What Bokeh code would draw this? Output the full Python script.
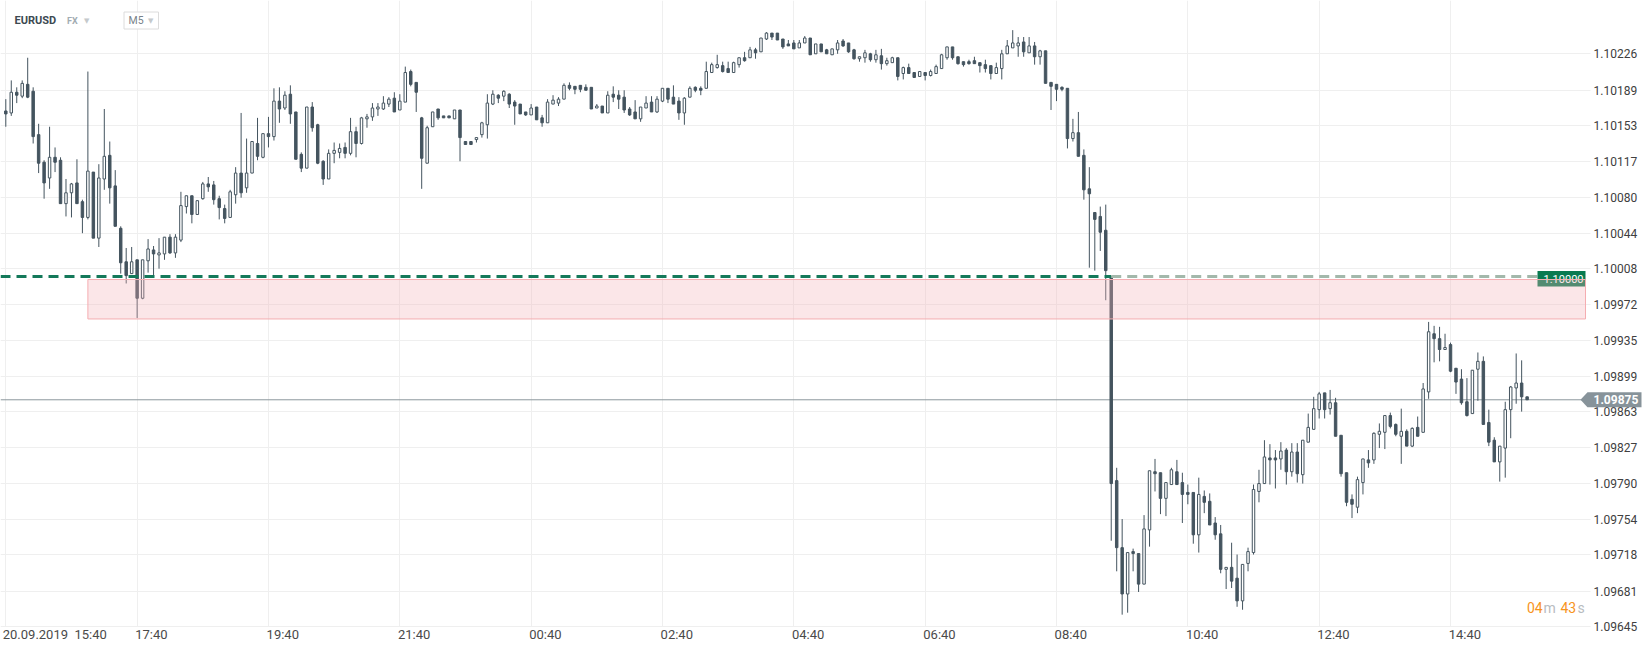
from bokeh.plotting import figure
from bokeh.models import (ColumnDataSource, Range1d, FixedTicker, Label,
                          BoxAnnotation, PolyAnnotation, Span)
from bokeh.embed import file_html
from bokeh.resources import INLINE

# ---------------- data (EURUSD, M5 candles) ----------------
symbol = "EURUSD"
market = "FX"
timeframe = "M5"

open_ = [
    1.10168, 1.10166, 1.10187, 1.10183, 1.10195, 1.10188, 1.10144, 1.10116, 1.10100, 1.10121,
    1.10118, 1.10074, 1.10085, 1.10095, 1.10076, 1.10060, 1.10106, 1.10039, 1.10099, 1.10123,
    1.10092, 1.10049, 1.10015, 1.10003, 1.10017, 1.09978, 1.10016, 1.10027, 1.10022, 1.10023,
    1.10040, 1.10024, 1.10037, 1.10071, 1.10082, 1.10063, 1.10079, 1.10094, 1.10093, 1.10079,
    1.10069, 1.10060, 1.10083, 1.10105, 1.10090, 1.10105, 1.10135, 1.10121, 1.10145, 1.10142,
    1.10178, 1.10171, 1.10185, 1.10167, 1.10124, 1.10110, 1.10172, 1.10154, 1.10117, 1.10099,
    1.10125, 1.10126, 1.10131, 1.10125, 1.10147, 1.10135, 1.10160, 1.10162, 1.10170, 1.10170,
    1.10175, 1.10181, 1.10169, 1.10177, 1.10208, 1.10197, 1.10161, 1.10115, 1.10152, 1.10170,
    1.10163, 1.10163, 1.10160, 1.10169, 1.10137, 1.10137, 1.10139, 1.10144, 1.10154, 1.10175,
    1.10184, 1.10183, 1.10185, 1.10177, 1.10175, 1.10167, 1.10164, 1.10172, 1.10161, 1.10156,
    1.10175, 1.10176, 1.10180, 1.10194, 1.10193, 1.10194, 1.10192, 1.10192, 1.10171, 1.10173,
    1.10166, 1.10185, 1.10184, 1.10182, 1.10170, 1.10167, 1.10160, 1.10171, 1.10177, 1.10167,
    1.10178, 1.10191, 1.10182, 1.10178, 1.10166, 1.10182, 1.10192, 1.10191, 1.10191, 1.10207,
    1.10212, 1.10214, 1.10211, 1.10207, 1.10215, 1.10222, 1.10222, 1.10230, 1.10228, 1.10241,
    1.10247, 1.10247, 1.10241, 1.10236, 1.10237, 1.10232, 1.10237, 1.10242, 1.10226, 1.10236,
    1.10230, 1.10225, 1.10230, 1.10239, 1.10237, 1.10230, 1.10221, 1.10222, 1.10226, 1.10220,
    1.10224, 1.10216, 1.10217, 1.10222, 1.10206, 1.10212, 1.10207, 1.10203, 1.10207, 1.10204,
    1.10206, 1.10211, 1.10222, 1.10233, 1.10223, 1.10218, 1.10218, 1.10219, 1.10217, 1.10215,
    1.10214, 1.10206, 1.10211, 1.10226, 1.10232, 1.10234, 1.10238, 1.10227, 1.10234, 1.10223,
    1.10229, 1.10197, 1.10195, 1.10192, 1.10191, 1.10140, 1.10146, 1.10123, 1.10089, 1.10065,
    1.10061, 1.10047, 1.10000, 1.09793, 1.09725, 1.09678, 1.09721, 1.09719, 1.09688, 1.09743,
    1.09802, 1.09801, 1.09775, 1.09789, 1.09802, 1.09791, 1.09781, 1.09781, 1.09738, 1.09777,
    1.09772, 1.09750, 1.09739, 1.09703, 1.09705, 1.09694, 1.09671, 1.09709, 1.09720, 1.09782,
    1.09790, 1.09816, 1.09816, 1.09815, 1.09824, 1.09802, 1.09822, 1.09799, 1.09832, 1.09845,
    1.09865, 1.09882, 1.09866, 1.09872, 1.09839, 1.09801, 1.09774, 1.09766, 1.09791, 1.09814,
    1.09814, 1.09840, 1.09842, 1.09859, 1.09850, 1.09838, 1.09843, 1.09828, 1.09847, 1.09842,
    1.09883, 1.09942, 1.09937, 1.09926, 1.09931, 1.09907, 1.09896, 1.09873, 1.09861, 1.09906,
    1.09914, 1.09852, 1.09834, 1.09812, 1.09826, 1.09865, 1.09887, 1.09892, 1.09878,
]
high_ = [
    1.10180, 1.10199, 1.10192, 1.10199, 1.10222, 1.10192, 1.10155, 1.10118, 1.10152, 1.10131,
    1.10121, 1.10099, 1.10095, 1.10119, 1.10078, 1.10208, 1.10106, 1.10114, 1.10170, 1.10137,
    1.10108, 1.10051, 1.10029, 1.10030, 1.10017, 1.10017, 1.10038, 1.10031, 1.10039, 1.10040,
    1.10043, 1.10043, 1.10086, 1.10082, 1.10082, 1.10077, 1.10096, 1.10101, 1.10097, 1.10082,
    1.10073, 1.10088, 1.10111, 1.10166, 1.10140, 1.10137, 1.10161, 1.10145, 1.10162, 1.10191,
    1.10192, 1.10188, 1.10194, 1.10167, 1.10126, 1.10172, 1.10177, 1.10155, 1.10118, 1.10129,
    1.10136, 1.10135, 1.10136, 1.10161, 1.10152, 1.10162, 1.10165, 1.10176, 1.10176, 1.10183,
    1.10182, 1.10187, 1.10185, 1.10213, 1.10210, 1.10197, 1.10162, 1.10153, 1.10167, 1.10170,
    1.10163, 1.10163, 1.10169, 1.10169, 1.10137, 1.10137, 1.10141, 1.10157, 1.10185, 1.10189,
    1.10185, 1.10189, 1.10186, 1.10179, 1.10175, 1.10167, 1.10175, 1.10172, 1.10164, 1.10180,
    1.10184, 1.10182, 1.10196, 1.10197, 1.10193, 1.10194, 1.10195, 1.10192, 1.10175, 1.10173,
    1.10188, 1.10193, 1.10189, 1.10189, 1.10172, 1.10179, 1.10172, 1.10183, 1.10183, 1.10183,
    1.10191, 1.10191, 1.10194, 1.10182, 1.10182, 1.10193, 1.10193, 1.10193, 1.10218, 1.10217,
    1.10225, 1.10218, 1.10218, 1.10218, 1.10222, 1.10228, 1.10233, 1.10232, 1.10242, 1.10248,
    1.10247, 1.10247, 1.10241, 1.10240, 1.10240, 1.10240, 1.10244, 1.10242, 1.10236, 1.10236,
    1.10231, 1.10231, 1.10240, 1.10241, 1.10237, 1.10231, 1.10223, 1.10230, 1.10227, 1.10230,
    1.10231, 1.10222, 1.10223, 1.10222, 1.10213, 1.10216, 1.10207, 1.10208, 1.10207, 1.10210,
    1.10215, 1.10226, 1.10233, 1.10233, 1.10223, 1.10218, 1.10220, 1.10223, 1.10217, 1.10220,
    1.10214, 1.10217, 1.10230, 1.10240, 1.10250, 1.10243, 1.10243, 1.10243, 1.10238, 1.10230,
    1.10229, 1.10197, 1.10195, 1.10193, 1.10191, 1.10160, 1.10167, 1.10129, 1.10111, 1.10065,
    1.10071, 1.10073, 1.10000, 1.09806, 1.09754, 1.09720, 1.09724, 1.09719, 1.09758, 1.09803,
    1.09815, 1.09801, 1.09791, 1.09806, 1.09814, 1.09801, 1.09789, 1.09781, 1.09796, 1.09783,
    1.09780, 1.09756, 1.09748, 1.09705, 1.09730, 1.09718, 1.09708, 1.09725, 1.09789, 1.09804,
    1.09834, 1.09830, 1.09824, 1.09832, 1.09826, 1.09831, 1.09831, 1.09834, 1.09861, 1.09878,
    1.09883, 1.09882, 1.09885, 1.09877, 1.09839, 1.09801, 1.09779, 1.09797, 1.09815, 1.09824,
    1.09842, 1.09851, 1.09859, 1.09862, 1.09851, 1.09866, 1.09845, 1.09847, 1.09858, 1.09892,
    1.09954, 1.09950, 1.09949, 1.09942, 1.09933, 1.09907, 1.09906, 1.09897, 1.09905, 1.09923,
    1.09919, 1.09865, 1.09837, 1.09828, 1.09873, 1.09889, 1.09922, 1.09915, 1.09878,
]
low_ = [
    1.10152, 1.10163, 1.10176, 1.10181, 1.10181, 1.10135, 1.10105, 1.10079, 1.10089, 1.10106,
    1.10074, 1.10061, 1.10060, 1.10074, 1.10044, 1.10058, 1.10039, 1.10030, 1.10088, 1.10074,
    1.10051, 1.10003, 1.09993, 1.10003, 1.09958, 1.09977, 1.10004, 1.10000, 1.10008, 1.10017,
    1.10023, 1.10019, 1.10035, 1.10064, 1.10054, 1.10063, 1.10078, 1.10086, 1.10073, 1.10058,
    1.10054, 1.10060, 1.10074, 1.10080, 1.10085, 1.10105, 1.10118, 1.10120, 1.10131, 1.10138,
    1.10156, 1.10169, 1.10155, 1.10119, 1.10106, 1.10110, 1.10147, 1.10114, 1.10093, 1.10099,
    1.10115, 1.10120, 1.10120, 1.10123, 1.10121, 1.10134, 1.10151, 1.10158, 1.10163, 1.10169,
    1.10172, 1.10167, 1.10169, 1.10177, 1.10193, 1.10167, 1.10089, 1.10115, 1.10152, 1.10159,
    1.10161, 1.10161, 1.10160, 1.10117, 1.10134, 1.10134, 1.10136, 1.10141, 1.10140, 1.10174,
    1.10176, 1.10178, 1.10171, 1.10154, 1.10165, 1.10163, 1.10164, 1.10159, 1.10152, 1.10156,
    1.10175, 1.10173, 1.10180, 1.10189, 1.10185, 1.10187, 1.10189, 1.10170, 1.10171, 1.10166,
    1.10166, 1.10177, 1.10170, 1.10166, 1.10163, 1.10160, 1.10157, 1.10171, 1.10167, 1.10166,
    1.10177, 1.10176, 1.10175, 1.10159, 1.10154, 1.10182, 1.10187, 1.10184, 1.10191, 1.10207,
    1.10211, 1.10207, 1.10207, 1.10207, 1.10212, 1.10218, 1.10222, 1.10221, 1.10228, 1.10240,
    1.10240, 1.10240, 1.10231, 1.10234, 1.10231, 1.10232, 1.10237, 1.10225, 1.10226, 1.10228,
    1.10226, 1.10225, 1.10226, 1.10233, 1.10227, 1.10220, 1.10218, 1.10217, 1.10218, 1.10217,
    1.10210, 1.10214, 1.10217, 1.10199, 1.10200, 1.10206, 1.10202, 1.10203, 1.10199, 1.10203,
    1.10206, 1.10211, 1.10220, 1.10220, 1.10215, 1.10213, 1.10215, 1.10216, 1.10207, 1.10207,
    1.10200, 1.10206, 1.10200, 1.10226, 1.10232, 1.10223, 1.10223, 1.10227, 1.10215, 1.10215,
    1.10196, 1.10169, 1.10178, 1.10188, 1.10130, 1.10137, 1.10122, 1.10078, 1.10009, 1.10006,
    1.10026, 1.09976, 1.09732, 1.09701, 1.09657, 1.09659, 1.09701, 1.09680, 1.09688, 1.09726,
    1.09782, 1.09759, 1.09757, 1.09789, 1.09789, 1.09750, 1.09769, 1.09729, 1.09720, 1.09760,
    1.09748, 1.09733, 1.09699, 1.09683, 1.09684, 1.09665, 1.09662, 1.09701, 1.09718, 1.09771,
    1.09790, 1.09789, 1.09785, 1.09804, 1.09789, 1.09797, 1.09791, 1.09790, 1.09832, 1.09845,
    1.09856, 1.09856, 1.09860, 1.09838, 1.09797, 1.09767, 1.09755, 1.09760, 1.09779, 1.09806,
    1.09810, 1.09826, 1.09825, 1.09846, 1.09838, 1.09810, 1.09828, 1.09827, 1.09838, 1.09842,
    1.09876, 1.09913, 1.09914, 1.09926, 1.09903, 1.09881, 1.09870, 1.09858, 1.09861, 1.09874,
    1.09850, 1.09828, 1.09812, 1.09792, 1.09796, 1.09836, 1.09871, 1.09863, 1.09875,
]
close_ = [
    1.10165, 1.10187, 1.10184, 1.10196, 1.10182, 1.10142, 1.10115, 1.10095, 1.10121, 1.10116,
    1.10074, 1.10085, 1.10094, 1.10074, 1.10060, 1.10107, 1.10039, 1.10100, 1.10122, 1.10090,
    1.10051, 1.10014, 1.10001, 1.10015, 1.09978, 1.10017, 1.10028, 1.10023, 1.10024, 1.10040,
    1.10024, 1.10040, 1.10072, 1.10082, 1.10063, 1.10077, 1.10094, 1.10091, 1.10078, 1.10070,
    1.10059, 1.10086, 1.10105, 1.10085, 1.10105, 1.10137, 1.10122, 1.10145, 1.10142, 1.10178,
    1.10170, 1.10184, 1.10165, 1.10119, 1.10110, 1.10172, 1.10151, 1.10115, 1.10099, 1.10125,
    1.10128, 1.10130, 1.10125, 1.10147, 1.10135, 1.10161, 1.10162, 1.10171, 1.10172, 1.10176,
    1.10180, 1.10167, 1.10178, 1.10207, 1.10195, 1.10187, 1.10120, 1.10151, 1.10167, 1.10161,
    1.10161, 1.10161, 1.10169, 1.10141, 1.10134, 1.10134, 1.10141, 1.10156, 1.10176, 1.10185,
    1.10181, 1.10188, 1.10175, 1.10173, 1.10165, 1.10164, 1.10171, 1.10159, 1.10156, 1.10177,
    1.10179, 1.10180, 1.10194, 1.10191, 1.10190, 1.10190, 1.10189, 1.10170, 1.10173, 1.10166,
    1.10184, 1.10182, 1.10180, 1.10169, 1.10164, 1.10160, 1.10172, 1.10176, 1.10167, 1.10180,
    1.10191, 1.10180, 1.10175, 1.10166, 1.10181, 1.10191, 1.10189, 1.10189, 1.10208, 1.10215,
    1.10215, 1.10208, 1.10207, 1.10217, 1.10222, 1.10219, 1.10230, 1.10227, 1.10242, 1.10247,
    1.10243, 1.10240, 1.10233, 1.10234, 1.10231, 1.10237, 1.10242, 1.10225, 1.10236, 1.10228,
    1.10226, 1.10231, 1.10237, 1.10234, 1.10228, 1.10221, 1.10223, 1.10227, 1.10220, 1.10225,
    1.10216, 1.10219, 1.10222, 1.10203, 1.10212, 1.10206, 1.10202, 1.10208, 1.10204, 1.10208,
    1.10213, 1.10225, 1.10233, 1.10222, 1.10216, 1.10215, 1.10216, 1.10216, 1.10214, 1.10211,
    1.10206, 1.10212, 1.10226, 1.10234, 1.10237, 1.10237, 1.10228, 1.10234, 1.10223, 1.10229,
    1.10196, 1.10193, 1.10190, 1.10190, 1.10140, 1.10146, 1.10122, 1.10088, 1.10084, 1.10058,
    1.10045, 1.10006, 1.09790, 1.09725, 1.09678, 1.09720, 1.09719, 1.09688, 1.09744, 1.09803,
    1.09800, 1.09775, 1.09791, 1.09804, 1.09789, 1.09779, 1.09779, 1.09738, 1.09779, 1.09771,
    1.09748, 1.09738, 1.09703, 1.09705, 1.09691, 1.09671, 1.09708, 1.09721, 1.09784, 1.09790,
    1.09817, 1.09814, 1.09814, 1.09823, 1.09802, 1.09822, 1.09800, 1.09834, 1.09847, 1.09866,
    1.09881, 1.09865, 1.09872, 1.09838, 1.09800, 1.09771, 1.09769, 1.09794, 1.09815, 1.09811,
    1.09841, 1.09843, 1.09859, 1.09848, 1.09840, 1.09843, 1.09828, 1.09846, 1.09838, 1.09886,
    1.09944, 1.09937, 1.09926, 1.09928, 1.09904, 1.09893, 1.09872, 1.09859, 1.09905, 1.09914,
    1.09850, 1.09832, 1.09812, 1.09828, 1.09865, 1.09888, 1.09892, 1.09878, 1.09875,
]

x_tick_index = [0, 24, 48, 72, 96, 120, 144, 168, 192, 216, 240, 264]
x_tick_labels = ["20.09.2019\u00a0\u00a015:40", "17:40", "19:40", "21:40", "00:40", "02:40",
                 "04:40", "06:40", "08:40", "10:40", "12:40", "14:40"]
y_tick_labels = ["1.09645", "1.09681", "1.09718", "1.09754", "1.09790", "1.09827",
                 "1.09863", "1.09899", "1.09935", "1.09972", "1.10008", "1.10044",
                 "1.10080", "1.10117", "1.10153", "1.10189", "1.10226"]

level_price = 1.10000      # horizontal level (dashed)
level_break_index = 202    # candle where the level was broken
zone_start_index = 15
zone_top = 1.09997
zone_bottom = 1.09957
last_price = close_[-1]
countdown = [("04", "accent"), ("m", "muted"), ("43", "accent"), ("s", "muted")]

# ---------------- layout constants ----------------
W, H = 1650, 650
PX_PER_BAR = 5.4724
PX_PER_PRICE = 98571.0
FIRST_BAR_PX = 5.3
TOP_TICK_PX = 53.3
x_start = -FIRST_BAR_PX / PX_PER_BAR
x_end = x_start + W / PX_PER_BAR
y_top = float(y_tick_labels[-1]) + TOP_TICK_PX / PX_PER_PRICE
y_bottom = y_top - H / PX_PER_PRICE
y_axis_price = float(y_tick_labels[0])   # bottom grid line carries the time axis


def dx(px):
    """screen pixel x -> data x (decorations only)"""
    return x_start + px / PX_PER_BAR


def dy(py):
    """screen pixel y -> data y (decorations only)"""
    return y_top - py / PX_PER_PRICE


CANDLE = "#44545f"
GRID = "#efefef"
AXIS_X_PX = 1590

p = figure(width=W, height=H, output_backend="svg", toolbar_location=None,
           x_range=Range1d(x_start, x_end), y_range=Range1d(y_bottom, y_top),
           y_axis_location="right")
p.min_border = 0
p.min_border_left = 0
p.min_border_top = 0
p.min_border_right = 0
p.min_border_bottom = 0
p.outline_line_color = None
p.background_fill_color = "white"
p.border_fill_color = "white"

# grid
y_ticks = [float(s) for s in y_tick_labels]
p.xgrid.ticker = FixedTicker(ticks=x_tick_index)
p.ygrid.ticker = FixedTicker(ticks=y_ticks)
p.grid.grid_line_color = GRID
p.grid.grid_line_width = 1

# time axis: drawn along the bottom grid line; labels start at the grid line
half_w = [49.0] + [14.3] * (len(x_tick_index) - 1)
x_label_pos = [round(i + hw / PX_PER_BAR, 4) for i, hw in zip(x_tick_index, half_w)]
xa = p.xaxis[0]
xa.fixed_location = y_axis_price
xa.ticker = FixedTicker(ticks=x_label_pos)
xa.major_label_overrides = {pos: lab for pos, lab in zip(x_label_pos, x_tick_labels)}
xa.axis_line_color = None
xa.major_tick_line_color = None
xa.minor_tick_line_color = None
xa.major_tick_out = 0
xa.major_tick_in = 0
xa.major_label_standoff = 1
xa.major_label_text_font = "Liberation Sans Narrow, Roboto"
xa.major_label_text_font_size = "13px"
xa.major_label_text_color = "#4a4a4a"

# price axis drawn at the right edge of the chart area
ya = p.yaxis[0]
ya.fixed_location = dx(AXIS_X_PX)
ya.ticker = FixedTicker(ticks=y_ticks)
ya.major_label_overrides = {t: s for t, s in zip(y_ticks, y_tick_labels)}
ya.axis_line_color = None
ya.major_tick_line_color = None
ya.minor_tick_line_color = None
ya.major_tick_out = 0
ya.major_tick_in = 0
ya.major_label_standoff = 3
ya.major_label_text_font = "Roboto"
ya.major_label_text_font_size = "12px"
ya.major_label_text_color = "#404040"

# current price line (under candles)
p.add_layout(Span(location=last_price, dimension="width", line_color="#8c979c",
                  line_width=1, level="underlay"))
# blank strips: grid stops at the chart edge and at the bottom grid line
p.add_layout(BoxAnnotation(left=dx(AXIS_X_PX), fill_color="white", fill_alpha=1,
                           line_color=None, level="underlay"))
p.add_layout(BoxAnnotation(top=y_axis_price - 0.6 / PX_PER_PRICE, fill_color="white",
                           fill_alpha=1, line_color=None, level="underlay"))

# candles
n = min(len(open_), len(high_), len(low_), len(close_))
idx = list(range(n))
src = ColumnDataSource(dict(
    x=idx,
    high=high_[:n],
    low=low_[:n],
    top=[max(o, c) for o, c in zip(open_[:n], close_[:n])],
    bottom=[min(o, c) for o, c in zip(open_[:n], close_[:n])],
    fill=["white" if c >= o else CANDLE for o, c in zip(open_[:n], close_[:n])],
))
p.segment(x0="x", y0="low", x1="x", y1="high", source=src, line_color=CANDLE, line_width=1)
p.vbar(x="x", width=0.45, top="top", bottom="bottom", source=src,
       fill_color="fill", line_color=CANDLE, line_width=1)

# level line (dashed): strong until break, faded afterwards
tag_left = dx(1537)
p.line([x_start, level_break_index], [level_price, level_price],
       line_color="#14795a", line_width=3, line_dash="10 6")
p.line([level_break_index, tag_left], [level_price, level_price],
       line_color="#a3b8ab", line_width=3, line_dash="10 6")

# level tag
p.add_layout(BoxAnnotation(left=tag_left, right=dx(1585), top=dy(270.5), bottom=dy(286),
                           fill_color="#087a50", fill_alpha=1, line_color=None))
p.add_layout(Label(x=dx(1543), y=dy(278.5), text=f"{level_price:.5f}", text_color="white",
                   text_font="Roboto", text_font_size="11px", text_baseline="middle",
                   text_align="left"))

# pink zone
p.add_layout(BoxAnnotation(left=zone_start_index, right=dx(1585), top=zone_top,
                           bottom=zone_bottom, fill_color="#f4b0b7", fill_alpha=0.32,
                           line_color="#f5adb1", line_alpha=1, line_width=1))

# last price tag
half = 7.5 / PX_PER_PRICE
p.add_layout(PolyAnnotation(
    xs=[dx(1580), dx(1587), dx(1641), dx(1641), dx(1587)],
    ys=[last_price, last_price + half, last_price + half, last_price - half, last_price - half],
    fill_color="#87939a", fill_alpha=1, line_color=None))
p.add_layout(Label(x=dx(1593), y=last_price, text=f"{last_price:.5f}", text_color="white",
                   text_font="Roboto", text_font_size="12px", text_font_style="bold",
                   text_baseline="middle", text_align="left"))

# countdown
cd_x = [1526.5, 1543.0, 1560.0, 1577.0]
for (txt, kind), xx in zip(countdown, cd_x):
    p.add_layout(Label(x=dx(xx), y=dy(607), text=txt,
                       text_color="#f7941d" if kind == "accent" else "#b8bcbf",
                       text_font="Roboto", text_font_size="14px",
                       text_baseline="middle", text_align="left"))

# header
p.add_layout(Label(x=dx(14), y=dy(20), text=symbol, text_color="#3d4a52",
                   text_font="Roboto", text_font_size="11px", text_font_style="bold",
                   text_baseline="middle", text_align="left"))
p.add_layout(Label(x=dx(66.5), y=dy(20), text=market, text_color="#a2acb2",
                   text_font="Roboto", text_font_size="9px", text_font_style="bold",
                   text_baseline="middle", text_align="left"))
p.add_layout(Label(x=dx(83.5), y=dy(20), text="\u25bc", text_color="#c5c9cc",
                   text_font="DejaVu Sans", text_font_size="7px",
                   text_baseline="middle", text_align="left"))
p.add_layout(BoxAnnotation(left=dx(123.5), right=dx(158), top=dy(11.5), bottom=dy(28.5),
                           fill_color="white", fill_alpha=1, line_color="#dcdcdc",
                           line_alpha=1, line_width=1))
p.add_layout(Label(x=dx(128), y=dy(20), text=timeframe, text_color="#78828a",
                   text_font="Roboto", text_font_size="10.5px",
                   text_baseline="middle", text_align="left"))
p.add_layout(Label(x=dx(147.5), y=dy(20), text="\u25bc", text_color="#c5c9cc",
                   text_font="DejaVu Sans", text_font_size="7px",
                   text_baseline="middle", text_align="left"))

open("out.html", "w").write(file_html(p, INLINE))
